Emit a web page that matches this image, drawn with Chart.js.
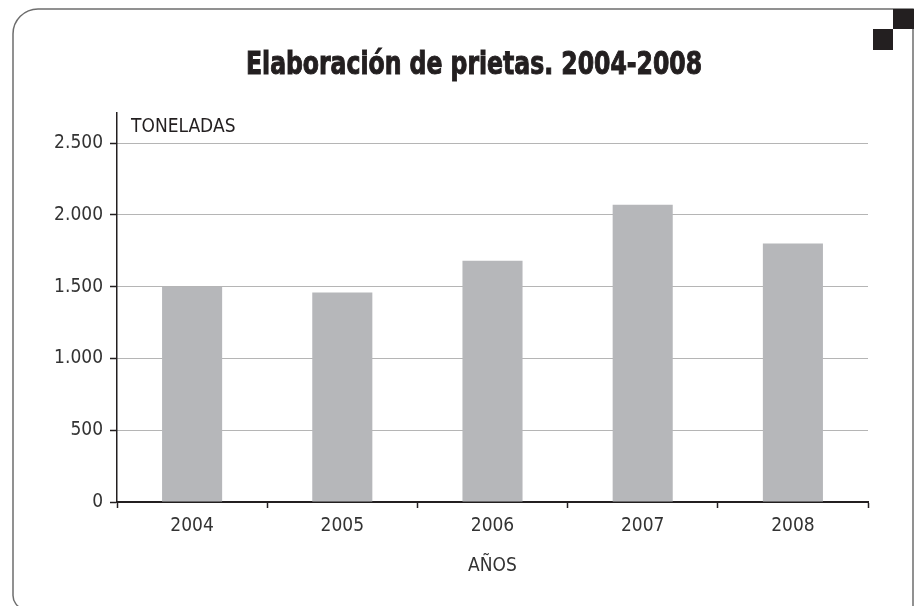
<!DOCTYPE html>
<html>
<head>
<meta charset="utf-8">
<script src="https://cdn.jsdelivr.net/npm/chart.js@4.4.0/dist/chart.umd.min.js"></script>
<style>
html, body { margin: 0; padding: 0; background: #fff; }
#wrap { position: relative; width: 917px; height: 606px; }
</style>
</head>
<body>
<div id="wrap"><canvas id="chartArea" width="917" height="606"></canvas></div>
<script>
// data
var years = ['2004', '2005', '2006', '2007', '2008'];
var toneladas = [1500, 1460, 1680, 2070, 1800];
var yTickValues = [0, 500, 1000, 1500, 2000, 2500];
var titleText = 'Elaboración de prietas. 2004-2008';
var yAxisLabel = 'TONELADAS';
var xAxisLabel = 'AÑOS';

var NARROW = '"Liberation Sans Narrow", "DejaVu Sans Condensed", "Roboto", sans-serif';

function fmtMiles(v) {
    return String(v).replace(/\B(?=(\d{3})+(?!\d))/g, '.');
}

// frame, corner squares, title and the TONELADAS label
var decoPlugin = {
    id: 'deco',
    beforeDraw: function(chart) {
        var ctx = chart.ctx;
        ctx.save();
        ctx.fillStyle = '#fff';
        ctx.fillRect(0, 0, chart.width, chart.height);
        ctx.restore();
    },
    afterDraw: function(chart) {
        var ctx = chart.ctx;
        var area = chart.chartArea;
        ctx.save();
        // rounded frame
        ctx.strokeStyle = '#6d6d6d';
        ctx.lineWidth = 1.5;
        ctx.beginPath();
        ctx.moveTo(913, 620);
        ctx.lineTo(913, 9);
        ctx.lineTo(38, 9);
        ctx.arcTo(13, 9, 13, 34, 25);
        ctx.lineTo(13, 590);
        ctx.arcTo(13, 606, 20, 608, 14);
        ctx.stroke();
        // squares top right
        ctx.fillStyle = '#231f20';
        ctx.fillRect(893, 9, 21, 20);
        ctx.fillRect(873, 29, 20, 21);

        // title, squeezed to a condensed look
        ctx.fillStyle = '#231f20';
        ctx.strokeStyle = '#231f20';
        ctx.lineWidth = 1;
        ctx.font = 'bold 32px ' + NARROW;
        ctx.textBaseline = 'alphabetic';
        ctx.textAlign = 'left';
        var w = ctx.measureText(titleText).width;
        var target = 456;
        ctx.translate(246, 74);
        ctx.scale(target / w, 1);
        ctx.fillText(titleText, 0, 0);
        ctx.strokeText(titleText, 0, 0);
        ctx.restore();

        ctx.save();
        ctx.fillStyle = '#231f20';
        ctx.font = '19px ' + NARROW;
        ctx.textBaseline = 'middle';
        ctx.textAlign = 'left';
        ctx.fillText(yAxisLabel, area.left + 14, area.top + 14);
        ctx.restore();
    }
};

var config = {
    type: 'bar',
    data: {
        labels: years,
        datasets: [{
            data: toneladas,
            backgroundColor: '#b6b7ba',
            borderWidth: 0,
            categoryPercentage: 0.4,
            barPercentage: 1
        }]
    },
    options: {
        responsive: false,
        animation: false,
        layout: { padding: { left: 0, right: 49, top: 113, bottom: 0 } },
        plugins: {
            legend: { display: false },
            title: { display: false },
            tooltip: { enabled: false }
        },
        scales: {
            x: {
                grid: {
                    offset: true,
                    drawOnChartArea: false,
                    drawTicks: true,
                    tickLength: 6,
                    tickColor: '#231f20',
                    tickWidth: 1.5
                },
                border: { color: '#231f20', width: 2 },
                ticks: {
                    color: '#333',
                    font: { family: NARROW, size: 19 },
                    padding: 7
                },
                title: {
                    display: true,
                    text: xAxisLabel,
                    color: '#333',
                    font: { family: NARROW, size: 19 },
                    padding: { top: 0, bottom: 29 }
                },
                afterFit: function(scale) { scale.height = 104; }
            },
            y: {
                min: 0,
                max: 2710,
                afterBuildTicks: function(scale) {
                    scale.ticks = yTickValues.map(function(v) { return { value: v }; });
                },
                grid: {
                    color: '#6a6a6a',
                    lineWidth: 1,
                    tickLength: 7,
                    tickColor: '#231f20',
                    tickWidth: 1.5,
                    tickBorderDash: []
                },
                border: { color: '#231f20', width: 1.5, dash: [1, 1] },
                ticks: {
                    color: '#333',
                    font: { family: NARROW, size: 19 },
                    padding: 7,
                    callback: function(v) { return fmtMiles(v); }
                },
                afterFit: function(scale) { scale.width = 117; }
            }
        }
    },
    plugins: [decoPlugin]
};

var ctx = document.getElementById('chartArea').getContext('2d');
window.myBars = new Chart(ctx, config);
</script>
</body>
</html>
